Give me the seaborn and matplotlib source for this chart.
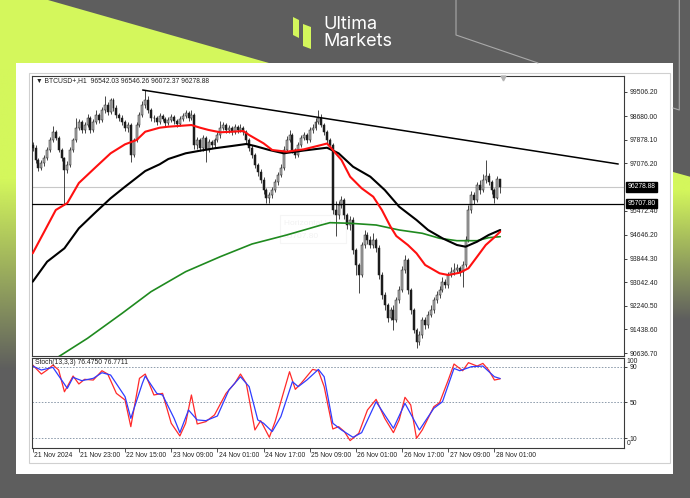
import numpy as np
import matplotlib
matplotlib.use('Agg')
import matplotlib.pyplot as plt
import matplotlib.transforms as mtransforms
from matplotlib.patches import Polygon, Rectangle
import seaborn as sns
import pandas as pd

sns.set_style("white")
plt.rcParams['font.family'] = ['Liberation Sans', 'DejaVu Sans']

# ---- chart data (hourly BTCUSD+ candles, bar index 0 = 21 Nov 2024) ----
first_open = 97700
closes = [
    97595, 97188, 96916, 97086, 97255, 97527, 97866, 98138, 97934, 97527,
    97255, 96848, 97018, 97527, 97866, 98274, 98477, 98206, 98375, 98613,
    98206, 98477, 98715, 98545, 98885, 99054, 98817, 99224, 98952, 98715,
    98613, 98477, 98274, 98375, 97357, 97866, 98375, 98715, 99054, 99224,
    98885, 98613,
    98613, 98477, 98681, 98579, 98443, 98545, 98647, 98511, 98409, 98579, 98681, 98783, 98613, 98715,
    97697, 97866, 97595, 97934, 97527, 97799, 97697, 97866, 98036, 98274,
    98375, 98206, 98274, 98138, 98308, 98206, 98274, 98138, 97866, 97595,
    97357, 97018, 96780, 96509, 96169, 95898, 96000, 96169, 96441, 96678,
    96916, 97527, 97866, 98036, 97527, 97357, 97697, 97934, 98036, 97866,
    98206, 98274, 98477, 98613, 98375, 98138, 97866, 97697, 95491, 95321,
    95660, 95830, 95321, 94981, 95151, 94133, 93624, 93284, 94303, 94642, 94472,
    94303, 94472, 94201, 93284, 92606, 92266, 91825, 92097, 91757, 92436,
    92775, 93454, 93794, 92775, 92097, 91418, 91011, 91248, 91757, 91587,
    91927, 92097, 92436, 92606, 92775, 93047, 92945, 93284, 93386, 93454,
    93522, 93386, 93624, 94472, 95491, 96000, 95830, 96339, 96169, 96509,
    96645, 96441, 96169, 95898, 96542.03, 96278.88,
]
highs = [
    97800, 97680, 97250, 97200, 97350, 97620, 97960, 98350, 98200, 98000,
    97600, 97300, 97150, 97620, 97950, 98600, 98580, 98550, 98480, 98750,
    98680, 98580, 98900, 98800, 98980, 99350, 99150, 99300, 99280, 99050,
    98800, 98700, 98550, 98480, 98450, 97950, 98480, 98820, 99200, 99560,
    99350, 98950,
    98720, 98680, 98780, 98760, 98650, 98640, 98740, 98720, 98580, 98670, 98800, 98900, 98850, 98880,
    98780, 97980, 97950, 98050, 98000, 97900, 97880, 97950, 98150, 98500,
    98480, 98450, 98380, 98350, 98420, 98380, 98400, 98350, 98200, 97950,
    97680, 97420, 97100, 96880, 96600, 96250, 96100, 96280, 96550, 96780,
    97050, 97650, 98000, 98200, 98100, 97600, 97800, 98050, 98150, 98120,
    98300, 98400, 98600, 98900, 98750, 98450, 98200, 97950, 97750, 95800,
    95780, 95950, 95900, 95400, 95300, 95250, 94200, 93700, 94400, 94800, 94750,
    94620, 94700, 94550, 94300, 93400, 92700, 92350, 92200, 92250, 92550,
    92900, 93600, 93950, 93850, 92850, 92150, 91500, 91400, 91850, 91850,
    92050, 92250, 92550, 92750, 92900, 93200, 93150, 93400, 93550, 93700,
    93650, 93600, 93750, 94600, 95650, 96150, 96100, 96450, 96500, 96700,
    97180, 96750, 96500, 96250, 96650, 96546.26,
]
lows = [
    97480, 97080, 96820, 96850, 97000, 97200, 97450, 97800, 97850, 97450,
    97150, 95660, 96750, 96950, 97450, 97800, 98200, 98100, 98120, 98300,
    98100, 98150, 98400, 98450, 98480, 98800, 98700, 98750, 98850, 98620,
    98500, 98380, 98180, 98150, 97120, 97300, 97800, 98300, 98650, 98950,
    98800, 98500,
    98480, 98380, 98420, 98500, 98350, 98380, 98480, 98420, 98320, 98350, 98520, 98620, 98520, 98550,
    97550, 97550, 97480, 97500, 97120, 97450, 97580, 97600, 97800, 97950,
    98200, 98100, 98120, 98050, 98080, 98100, 98150, 98050, 97780, 97500,
    97250, 96900, 96650, 96400, 96050, 95740, 95740, 95900, 96100, 96350,
    96600, 96850, 97450, 97800, 97420, 97250, 97300, 97620, 97850, 97780,
    97800, 98120, 98200, 98400, 98300, 98050, 97780, 97600, 95350, 94600,
    95200, 95550, 95200, 94850, 94800, 94000, 93300, 92680, 93200, 94200, 94350,
    94200, 94200, 94050, 93150, 92480, 92100, 91700, 91750, 91420, 91700,
    92350, 92700, 93350, 92650, 91950, 91300, 90800, 90900, 91150, 91450,
    91500, 91850, 92000, 92350, 92500, 92700, 92850, 92850, 93200, 93300,
    93350, 93250, 92880, 93550, 94400, 95400, 95700, 95750, 96050, 96100,
    96400, 96350, 96050, 95720, 95850, 96072.37,
]

# moving averages (read at sample bars)
red_bars = [0, 4, 8, 12, 16, 22, 27, 32, 36, 39, 44, 47, 55, 58, 61, 65, 69, 73, 75, 80,
            83, 88, 94, 100, 102, 103, 107, 110, 114, 118, 121, 124, 126, 130, 133, 136,
            141, 144, 148, 151, 154, 157, 160, 162]
red_vals = [94021, 94754, 95491, 95728, 96407, 96960, 97415, 97720, 97866, 98148, 98284,
            98318, 98375, 98284, 98206, 98128, 98148, 98172, 98036, 97754, 97527, 97470,
            97551, 97697, 97748, 97639, 97188, 96621, 96227, 95942, 95491, 94924, 94608,
            94303, 94021, 93624, 93342, 93284, 93363, 93512, 93906, 94303, 94564, 94754]
black_bars = [0, 5, 11, 16, 22, 27, 32, 35, 39, 44, 47, 53, 58, 63, 69, 74, 77, 82, 87, 94,
              102, 106, 111, 117, 122, 127, 133, 137, 142, 147, 150, 154, 158, 162]
black_vals = [93057, 93736, 94191, 94870, 95433, 95888, 96281, 96509, 96814, 97042, 97222,
              97415, 97503, 97585, 97663, 97731, 97663, 97527, 97415, 97510, 97605, 97415,
              96960, 96621, 96169, 95602, 95151, 94812, 94530, 94303, 94245, 94415, 94642,
              94812]
green_bars = [8, 19, 31, 41, 53, 65, 76, 88, 100, 103, 110, 119, 127, 135, 141, 147, 154, 158, 162]
green_vals = [90450, 91136, 91985, 92718, 93397, 93906, 94337, 94642, 94981, 95060, 95040,
              94981, 94812, 94700, 94530, 94449, 94449, 94551, 94585]

trend_bars = [38.1, 202.9]
trend_prices = [99563, 97052]
support_level = 95707.80
bid_level = 96278.88
shift_bar = 163

# stochastic (13,3,3)
k_bars = [0, 3, 5, 7, 9, 11, 14, 16, 18, 21, 24, 26, 29, 32, 34, 37, 39, 42, 45, 48,
          51, 53, 55, 57, 60, 63, 67, 70, 72, 74, 77, 79, 82, 84, 89, 91, 93, 97, 99, 101,
          104, 106, 108, 110, 113, 116, 119, 122, 125, 127, 129, 131, 133, 135, 139, 141,
          144, 146, 149, 151, 154, 156, 158, 160, 162]
k_vals = [91.9, 81.8, 86.3, 91.9, 86.3, 62, 79.6, 70.7, 75.9, 75.1, 85.5, 81.8, 60.2, 52.8,
          23, 77, 81.8, 58.4, 60.2, 26.8, 12.6, 26.8, 58.4, 26, 28.6, 36.1, 60.2, 71.4, 81.8,
          71.4, 19.3, 29.7, 11.1, 28.6, 84.4, 64.7, 71.4, 87, 85.5, 67.7, 20.4, 23, 17.5, 7.4,
          15.6, 41.6, 53.5, 32.3, 16.3, 30.5, 55.8, 47.2, 10, 19.3, 45.3, 49.8, 75.1, 93,
          85.5, 94.5, 90.7, 93.7, 86.3, 75.1, 76.475]
d_bars = [0, 3, 7, 12, 14, 17, 21, 24, 27, 32, 34, 38, 39, 43, 45, 49, 51, 54, 57, 60,
          64, 68, 72, 75, 78, 80, 83, 86, 90, 92, 95, 99, 101, 104, 107, 111, 114, 119, 125,
          129, 134, 139, 142, 146, 148, 152, 156, 160, 162]
d_vals = [90.7, 86.3, 89.3, 65.8, 78.1, 74.4, 77, 83.3, 80.7, 56.5, 32.3, 71.4, 79.6, 60.2,
          58.4, 32.3, 16.3, 41.6, 30.5, 29.7, 34.9, 64, 78.8, 67.7, 30.5, 26.8, 17.5, 34.2,
          73.3, 67.7, 75.1, 87, 78.8, 26.8, 19.3, 11.1, 16.3, 50.9, 21.2, 49.1, 19.3, 43.5,
          50.9, 88.1, 85.5, 90, 90.7, 78.8, 76.7711]
stoch_levels = [90, 50, 10]

price_ticks = [99506.20, 98680.00, 97878.10, 97076.20, 95472.40, 94646.20, 93844.30,
               93042.40, 92240.50, 91438.60, 90636.70]
date_bars = [0, 16, 32, 48, 64, 80, 96, 112, 128, 144, 160]
date_labels = ["21 Nov 2024", "21 Nov 23:00", "22 Nov 15:00", "23 Nov 09:00",
               "24 Nov 01:00", "24 Nov 17:00", "25 Nov 09:00", "26 Nov 01:00",
               "26 Nov 17:00", "27 Nov 09:00", "28 Nov 01:00"]

title_text = "\u25bc BTCUSD+,H1  96542.03 96546.26 96072.37 96278.88"
stoch_text = "Stoch(13,3,3) 76.4750 76.7711"

# ---- figure ----
W, H = 690, 498
LIME = '#d4f75c'
GREY = '#5e5e5e'
fig = plt.figure(figsize=(6.9, 4.98), dpi=100)
fig.patch.set_facecolor(GREY)

bg = fig.add_axes([0, 0, 1, 1], zorder=0)
bg.set_xlim(0, W)
bg.set_ylim(H, 0)
bg.axis('off')

# lime decoration
bg.add_patch(Polygon([(0, 0), (48, 0), (290, 69), (0, 69)], closed=True, fc=LIME, ec='none'))
lime_rgb = matplotlib.colors.to_rgb(LIME)

def fade_strip(x0, x1, y0, y_solid, y1):
    ys = np.linspace(y0, y1, 300)
    a = np.clip((y1 - ys) / (y1 - y_solid), 0, 1)
    img = np.zeros((300, 1, 4))
    img[:, 0, :3] = lime_rgb
    img[:, 0, 3] = a
    bg.imshow(img, extent=(x0, x1, y1, y0), origin='upper', aspect='auto',
              interpolation='bilinear', zorder=0.5)

fade_strip(0, 16, 60, 180, 370)
fade_strip(672, 690, 168, 190, 320)
bg.add_patch(Polygon([(672, 160), (690, 160), (690, 176.7), (672, 171.7)], closed=True,
                     fc=GREY, ec='none', zorder=0.6))
bg.set_xlim(0, W)
bg.set_ylim(H, 0)

# outline shape lines
bg.plot([456, 456, 538], [0, 35, 63], color='#a9a9a9', lw=0.8)
bg.plot([679.3, 679.3, 673], [0, 110, 108], color='#a9a9a9', lw=0.8)

# logo
bg.add_patch(Polygon([(293, 17), (299, 20), (299, 38), (293, 35)], closed=True, fc=LIME, ec='none'))
bg.add_patch(Polygon([(303, 24), (311, 27), (311, 49), (303, 46)], closed=True, fc=LIME, ec='none'))
bg.text(323, 24, "Ultima", color='white', fontsize=13, family=['Inter', 'DejaVu Sans'],
        va='center', ha='left')
bg.text(323, 41, "Markets", color='white', fontsize=13, family=['Inter', 'DejaVu Sans'],
        va='center', ha='left')

# white panel and terminal frame
bg.add_patch(Rectangle((15.5, 62.7), 657.2, 411.3, fc='white', ec='none', zorder=1))
bg.add_patch(Rectangle((29.3, 72.8), 640.7, 390.0, fc='none', ec='#d0d0d0', lw=0.8, zorder=1.1))

# faint tooltip left on chart
bg.add_patch(Rectangle((280, 215), 66, 28, fc='none', ec='#f5f5f5', lw=0.8, zorder=1.2))
bg.text(284, 223, "Horizontal Line", color='#f2f2f2', fontsize=6, zorder=1.2, va='center')
bg.text(284, 236, "95707.80", color='#f2f2f2', fontsize=6, zorder=1.2, va='center')


def px_axes(x0, y0, x1, y1):
    return fig.add_axes([x0 / W, 1 - y1 / H, (x1 - x0) / W, (y1 - y0) / H], zorder=2)


main = px_axes(32, 76, 624, 356)
stoch = px_axes(32, 358.3, 624, 448.3)
for ax in (main, stoch):
    ax.set_facecolor('none')
    for s in ax.spines.values():
        s.set_color('#3a3a3a')
        s.set_linewidth(0.8)
    ax.set_xlim(-0.24, 204.9)

FS = 4.9

# ---- candles ----
opens = [first_open] + closes[:-1]
candles = pd.DataFrame({'open': opens, 'high': highs, 'low': lows, 'close': closes})
candles['bar'] = np.arange(len(candles))
up = candles['close'] >= candles['open']
body_lo = candles[['open', 'close']].min(axis=1)
body_h = (candles['close'] - candles['open']).abs().clip(lower=15)
main.vlines(candles['bar'], candles['low'], candles['high'], color='#2a2a2a', lw=0.6, zorder=3)
main.bar(candles['bar'], body_h, bottom=body_lo, width=0.68,
         color=np.where(up, '#b0b0b0', '#1c1c1c'), edgecolor='#1c1c1c', linewidth=0.35, zorder=4)

# levels
main.axhline(bid_level, color='#c8c8c8', lw=0.8, zorder=1)
main.axhline(support_level, color='black', lw=0.9, zorder=5)
main.plot(trend_bars, trend_prices, color='black', lw=1.1, zorder=5)

# moving averages
ma = pd.concat([
    pd.DataFrame({'bar': green_bars, 'price': green_vals, 'ma': 'green'}),
    pd.DataFrame({'bar': black_bars, 'price': black_vals, 'ma': 'black'}),
    pd.DataFrame({'bar': red_bars, 'price': red_vals, 'ma': 'red'}),
])
for name, color, lw in [('green', '#1f8a1f', 1.2), ('black', '#000000', 1.5), ('red', '#ff1010', 1.5)]:
    sub = ma[ma['ma'] == name]
    sns.lineplot(data=sub, x='bar', y='price', ax=main, color=color, lw=lw,
                 estimator=None, sort=False, legend=False, zorder=6)

main.set_ylim(90535, 100039)
main.set_xlabel('')
main.set_ylabel('')
main.set_xticks([])
main.yaxis.tick_right()
main.set_yticks(price_ticks)
main.set_yticklabels([f"{v:.2f}" for v in price_ticks])
main.tick_params(axis='y', which='both', right=True, length=2.5, width=0.6, pad=1.5,
                 labelsize=FS, colors='#222222')

ytrans = mtransforms.blended_transform_factory(main.transAxes, main.transData)
for lvl in (bid_level, support_level):
    main.text(1.006, lvl, f"{lvl:.2f}", transform=ytrans, ha='left', va='center',
              color='white', fontsize=FS, zorder=7, clip_on=False,
              bbox=dict(boxstyle='square,pad=0.18', fc='black', ec='black'))

xtrans = mtransforms.blended_transform_factory(main.transData, main.transAxes)
main.plot([shift_bar], [0.994], marker='v', color='#b4b4b4', ms=3.5, transform=xtrans,
          clip_on=False, zorder=7)
main.text(0.007, 0.982, title_text, transform=main.transAxes, ha='left', va='center',
          fontsize=FS, color='#222222')

# ---- stochastic ----
for lvl in stoch_levels:
    stoch.axhline(lvl, color='#8d9bab', lw=0.7, ls=(0, (1.6, 1.6)), zorder=1)
st = pd.concat([
    pd.DataFrame({'bar': k_bars, 'value': k_vals, 'line': 'main'}),
    pd.DataFrame({'bar': d_bars, 'value': d_vals, 'line': 'signal'}),
])
sns.lineplot(data=st, x='bar', y='value', hue='line', palette={'main': '#ff2a2a', 'signal': '#2f3dff'},
             ax=stoch, lw=0.9, estimator=None, sort=False, legend=False)
stoch.set_ylim(-1.2, 99.4)
stoch.set_xlabel('')
stoch.set_ylabel('')
stoch.yaxis.tick_right()
stoch.set_yticks(stoch_levels)
stoch.set_yticklabels([str(v) for v in stoch_levels])
stoch.tick_params(axis='y', right=True, length=2.5, width=0.6, pad=1.5, labelsize=FS,
                  colors='#222222')
stoch.text(1.004, 0.962, "100", transform=stoch.transAxes, ha='left', va='center',
           fontsize=FS, color='#222222')
stoch.text(1.004, 0.056, "0", transform=stoch.transAxes, ha='left', va='center',
           fontsize=FS, color='#222222')
stoch.text(0.005, 0.948, stoch_text, transform=stoch.transAxes, ha='left', va='center',
           fontsize=FS, color='#222222')

stoch.set_xticks(date_bars)
stoch.set_xticklabels([''] * len(date_bars))
stoch.tick_params(axis='x', bottom=True, direction='out', length=3, width=0.6, color='#3a3a3a')
dtrans = mtransforms.blended_transform_factory(stoch.transData, stoch.transAxes)
for b, lab in zip(date_bars, date_labels):
    stoch.text(b + 0.5, -0.075, lab, transform=dtrans, ha='left', va='center',
               fontsize=FS, color='#222222', clip_on=False)

fig.savefig('out.png', dpi=100, facecolor=fig.get_facecolor())
